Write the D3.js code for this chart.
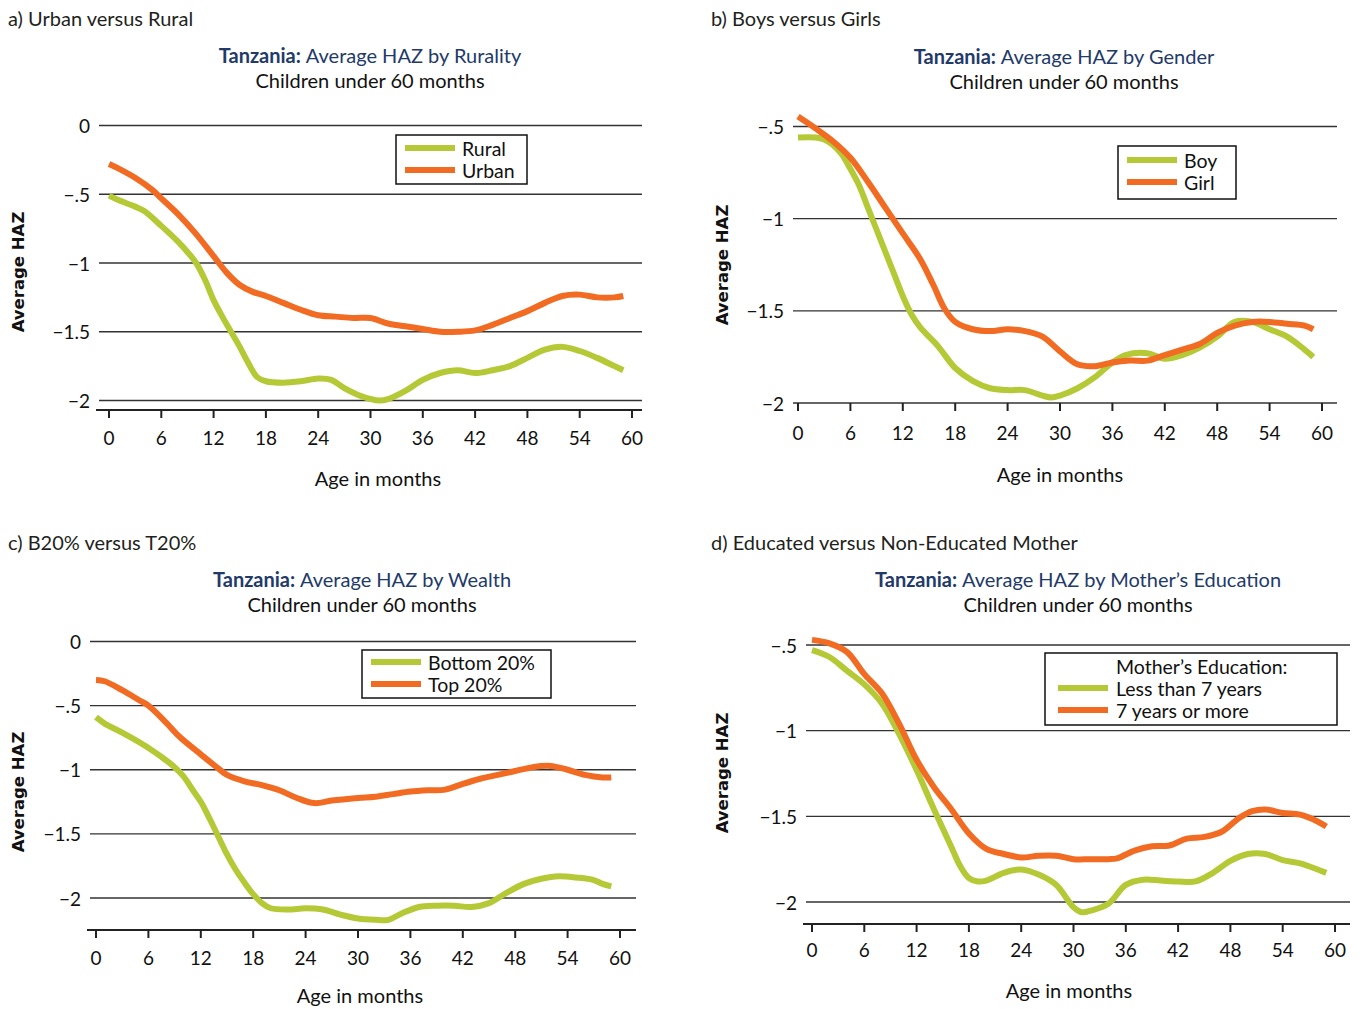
<!DOCTYPE html>
<html lang="en">
<head>
    <meta charset="UTF-8">
    <title>Tanzania HAZ</title>
    <script src="https://d3js.org/d3.v7.min.js"></script>
    <style>
        body {margin: 0; background: white;}
        svg {font-family: Lato, "Noto Sans", sans-serif;}
    </style>
</head>
<body>
<script>
    const width = 1361;
    const height = 1009;

    // ---- data: [age in months, average HAZ] ----
    const rural = [[0,-0.51],[1,-0.54],[3,-0.59],[4,-0.62],[6,-0.73],[8,-0.85],[9,-0.92],[10,-1.0],[11,-1.12],[12,-1.27],[13,-1.39],[14,-1.5],[15,-1.61],[16,-1.73],[17,-1.83],[18,-1.86],[20,-1.87],[22,-1.86],[24,-1.84],[25.5,-1.85],[27,-1.91],[29,-1.97],[31,-2.0],[32,-1.99],[34,-1.93],[36,-1.85],[38,-1.8],[40,-1.78],[42,-1.8],[44,-1.78],[46,-1.75],[48,-1.69],[50,-1.63],[52,-1.61],[54,-1.64],[56,-1.69],[58,-1.75],[59,-1.78]];
    const urban = [[0,-0.28],[1,-0.31],[3,-0.38],[5,-0.47],[6,-0.53],[8,-0.65],[10,-0.79],[12,-0.95],[13.5,-1.07],[15,-1.16],[16.5,-1.21],[18,-1.24],[20,-1.29],[22,-1.34],[24,-1.38],[26,-1.39],[28,-1.4],[30,-1.4],[32,-1.44],[34,-1.46],[36,-1.48],[38,-1.5],[40,-1.5],[42,-1.49],[44,-1.45],[46,-1.4],[48,-1.35],[50,-1.29],[52,-1.24],[54,-1.23],[56,-1.25],[58,-1.25],[59,-1.24]];

    const boy = [[0,-0.56],[2,-0.56],[3,-0.57],[4,-0.6],[5,-0.65],[6,-0.73],[7,-0.82],[8,-0.94],[9,-1.06],[10,-1.18],[11,-1.3],[12,-1.42],[13,-1.52],[14,-1.59],[16,-1.69],[18,-1.81],[20,-1.88],[22,-1.92],[24,-1.93],[26,-1.93],[28,-1.96],[29,-1.97],[30,-1.96],[32,-1.92],[34,-1.86],[36,-1.78],[37.5,-1.74],[40,-1.73],[42,-1.76],[44,-1.74],[46,-1.7],[48,-1.64],[50,-1.56],[52,-1.56],[54,-1.6],[56,-1.64],[58,-1.71],[59,-1.75]];
    const girl = [[0,-0.446],[2,-0.51],[4,-0.58],[6,-0.67],[8,-0.8],[10,-0.94],[12,-1.08],[14,-1.22],[15.5,-1.36],[16.8,-1.49],[18,-1.56],[20,-1.6],[22,-1.61],[24,-1.6],[26,-1.61],[28,-1.64],[30,-1.72],[32,-1.79],[34,-1.8],[36,-1.78],[38,-1.77],[40,-1.77],[42,-1.74],[44,-1.71],[46,-1.68],[48,-1.62],[50,-1.58],[52,-1.56],[54,-1.56],[56,-1.57],[58,-1.58],[59,-1.6]];

    const bottom20 = [[0,-0.59],[1,-0.64],[3,-0.71],[5.8,-0.82],[7.5,-0.9],[9,-0.98],[10,-1.05],[11.1,-1.16],[12,-1.25],[13,-1.38],[14,-1.52],[15,-1.66],[16,-1.78],[17,-1.88],[18,-1.97],[19,-2.04],[20,-2.08],[22,-2.09],[24,-2.08],[26,-2.09],[28,-2.13],[30,-2.16],[32,-2.17],[33.5,-2.17],[35,-2.12],[37,-2.07],[39,-2.06],[41,-2.06],[43,-2.07],[45,-2.04],[47,-1.96],[49,-1.89],[51,-1.85],[53,-1.83],[55,-1.84],[57,-1.86],[58,-1.89],[59,-1.91]];
    const top20 = [[0,-0.3],[1,-0.31],[3,-0.38],[5,-0.46],[6,-0.5],[8,-0.63],[9.6,-0.745],[12,-0.88],[14,-0.99],[15,-1.04],[17,-1.09],[19,-1.12],[21,-1.16],[23,-1.22],[25,-1.26],[27,-1.24],[30,-1.22],[32,-1.21],[34,-1.19],[36,-1.17],[38,-1.16],[40,-1.155],[42,-1.11],[44,-1.07],[46,-1.04],[48,-1.01],[50,-0.98],[52,-0.97],[54,-1.0],[56,-1.04],[58,-1.06],[59,-1.06]];

    const eduLess7 = [[0,-0.53],[2,-0.57],[4,-0.65],[6,-0.73],[8,-0.84],[10,-1.02],[12,-1.23],[14,-1.46],[16,-1.68],[17,-1.79],[18,-1.86],[19,-1.88],[20,-1.875],[22,-1.83],[24,-1.81],[26,-1.84],[28,-1.9],[30,-2.03],[31,-2.06],[32,-2.05],[34,-2.01],[36,-1.9],[38,-1.87],[40,-1.875],[42,-1.88],[44,-1.88],[46,-1.83],[48,-1.76],[50,-1.72],[52,-1.72],[54,-1.755],[56,-1.775],[58,-1.81],[59,-1.83]];
    const edu7plus = [[0,-0.47],[2,-0.49],[4,-0.54],[6,-0.67],[8,-0.78],[10,-0.96],[12,-1.17],[14,-1.33],[16,-1.46],[18,-1.6],[20,-1.69],[22,-1.72],[24,-1.74],[26,-1.73],[28,-1.73],[30,-1.75],[32,-1.75],[34,-1.75],[35,-1.745],[37,-1.7],[39,-1.675],[41,-1.67],[43,-1.63],[45,-1.62],[47,-1.59],[49,-1.51],[50.5,-1.47],[52,-1.46],[54,-1.48],[56,-1.49],[58,-1.53],[59,-1.56]];

    const xTicks = [0, 6, 12, 18, 24, 30, 36, 42, 48, 54, 60];
    const yTicksA = [0, -0.5, -1, -1.5, -2];
    const yTicksB = [-0.5, -1, -1.5, -2];

    const green = "#b5c936";
    const orange = "#f26b23";
    const navy = "#223a6a";

    const fmtY = v => v === 0 ? "0" : "\u2212" + String(Math.abs(v)).replace(/^0/, "");

    const panels = [
        {label: "a) Urban versus Rural", lx: 8, ly: 18, title: "Average HAZ by Rurality", tx: 370, ty: 55,
         xr: [109, 632], yd: [0, -2], yr: [125.5, 400.5], yTicks: yTicksA, grid: [99, 642],
         axisY: 410, tickY: 437, xtx: 378, xty: 478, ytx: 18, yty: 272,
         legend: {x: 396, y: 135, w: 131, h: 49, head: null, rows: 148, names: ["Rural", "Urban"]},
         series: [rural, urban]},
        {label: "b) Boys versus Girls", lx: 711, ly: 18, title: "Average HAZ by Gender", tx: 1064, ty: 56,
         xr: [798, 1322], yd: [-0.5, -2], yr: [126.5, 403], yTicks: yTicksB, grid: [793, 1337],
         axisY: null, tickY: 432, xtx: 1060, xty: 474, ytx: 722, yty: 265,
         legend: {x: 1118, y: 146, w: 118, h: 53, head: null, rows: 160, names: ["Boy", "Girl"]},
         series: [boy, girl]},
        {label: "c) B20% versus T20%", lx: 8, ly: 542, title: "Average HAZ by Wealth", tx: 362, ty: 579,
         xr: [96, 620], yd: [0, -2], yr: [641.5, 898], yTicks: yTicksA, grid: [90, 636],
         axisY: 930, tickY: 957, xtx: 360, xty: 995, ytx: 18, yty: 792,
         legend: {x: 362, y: 650, w: 189, h: 48, head: null, rows: 662, names: ["Bottom 20%", "Top 20%"]},
         series: [bottom20, top20]},
        {label: "d) Educated versus Non-Educated Mother", lx: 711, ly: 542, title: "Average HAZ by Mother\u2019s Education", tx: 1078, ty: 579,
         xr: [812, 1335], yd: [-0.5, -2], yr: [645, 902], yTicks: yTicksB, grid: [806, 1350],
         axisY: 924, tickY: 949, xtx: 1069, xty: 990, ytx: 722, yty: 773,
         legend: {x: 1045, y: 653, w: 292, h: 72, head: "Mother\u2019s Education:", rows: 688, names: ["Less than 7 years", "7 years or more"]},
         series: [eduLess7, edu7plus]}
    ];

    const svg = d3.select("body").append("svg")
            .attr("width", width).attr("height", height);

    panels.forEach(drawPanel);

    function drawPanel(p) {
        const g = svg.append("g");
        const x = d3.scaleLinear().domain([0, 60]).range(p.xr);
        const y = d3.scaleLinear().domain(p.yd).range(p.yr);

        // panel label + titles
        g.append("text").attr("x", p.lx).attr("y", p.ly)
                .attr("dominant-baseline", "central")
                .style("font-size", "20px").style("fill", "#231f20")
                .text(p.label);
        const t = g.append("text").attr("x", p.tx).attr("y", p.ty)
                .attr("text-anchor", "middle").attr("dominant-baseline", "central")
                .style("font-size", "20px").style("fill", navy);
        t.append("tspan").style("font-weight", "bold").text("Tanzania: ");
        t.append("tspan").text(p.title);
        g.append("text").attr("x", p.tx).attr("y", p.ty + 25)
                .attr("text-anchor", "middle").attr("dominant-baseline", "central")
                .style("font-size", "20px").style("fill", "#111")
                .text("Children under 60 months");

        // horizontal grid lines
        g.selectAll("line.grid").data(p.yTicks).enter()
                .append("line").attr("class", "grid")
                .attr("x1", p.grid[0]).attr("x2", p.grid[1])
                .attr("y1", d => y(d)).attr("y2", d => y(d))
                .style("stroke", "#333").style("stroke-width", 1.3);

        g.selectAll("text.ytick").data(p.yTicks).enter()
                .append("text").attr("class", "ytick")
                .attr("x", p.grid[0] - 9).attr("y", d => y(d))
                .attr("text-anchor", "end").attr("dominant-baseline", "central")
                .style("font-size", "19px").style("fill", "#111")
                .text(fmtY);

        // x axis
        const axisY = p.axisY === null ? y(p.yd[1]) : p.axisY;
        if (p.axisY !== null) {
            g.append("line")
                    .attr("x1", p.grid[0] - 3).attr("x2", p.grid[1])
                    .attr("y1", axisY).attr("y2", axisY)
                    .style("stroke", "#222").style("stroke-width", 2);
        }
        g.selectAll("line.xtick").data(xTicks).enter()
                .append("line").attr("class", "xtick")
                .attr("x1", d => x(d)).attr("x2", d => x(d))
                .attr("y1", axisY).attr("y2", axisY + 8)
                .style("stroke", "#222").style("stroke-width", 2);
        g.selectAll("text.xtick").data(xTicks).enter()
                .append("text").attr("class", "xtick")
                .attr("x", d => x(d)).attr("y", p.tickY)
                .attr("text-anchor", "middle").attr("dominant-baseline", "central")
                .style("font-size", "19px").style("fill", "#111")
                .text(d => d);

        // axis titles
        g.append("text").attr("x", p.xtx).attr("y", p.xty)
                .attr("text-anchor", "middle").attr("dominant-baseline", "central")
                .style("font-size", "20px").style("fill", "#111")
                .text("Age in months");
        g.append("text")
                .attr("transform", `translate(${p.ytx},${p.yty}) rotate(-90)`)
                .attr("text-anchor", "middle").attr("dominant-baseline", "central")
                .style("font-family", "'DejaVu Sans', sans-serif")
                .style("font-size", "16.5px").style("font-weight", "bold").style("fill", "#111")
                .text("Average HAZ");

        // lines
        const line = d3.line()
                .x(d => x(d[0])).y(d => y(d[1]))
                .curve(d3.curveCatmullRom.alpha(0.5));
        [green, orange].forEach((c, i) => {
            g.append("path").datum(p.series[i])
                    .attr("d", line)
                    .style("fill", "none").style("stroke", c)
                    .style("stroke-width", 6).style("stroke-linejoin", "round");
        });

        // legend
        const L = p.legend;
        g.append("rect").attr("x", L.x).attr("y", L.y).attr("width", L.w).attr("height", L.h)
                .style("fill", "white").style("stroke", "#111").style("stroke-width", 1.5);
        const textX = L.head ? L.x + 71 : L.x + 66;
        if (L.head) {
            g.append("text").attr("x", textX).attr("y", L.y + 13)
                    .attr("dominant-baseline", "central")
                    .style("font-size", "19.5px").style("fill", "#111").text(L.head);
        }
        L.names.forEach((n, i) => {
            const ry = L.rows + i * 22;
            g.append("line").attr("x1", L.x + (L.head ? 13 : 9)).attr("x2", L.x + (L.head ? 63 : 59))
                    .attr("y1", ry).attr("y2", ry)
                    .style("stroke", i === 0 ? green : orange).style("stroke-width", 6);
            g.append("text").attr("x", textX).attr("y", ry)
                    .attr("dominant-baseline", "central")
                    .style("font-size", "19.5px").style("fill", "#111").text(n);
        });
    }
</script>
</body>
</html>
